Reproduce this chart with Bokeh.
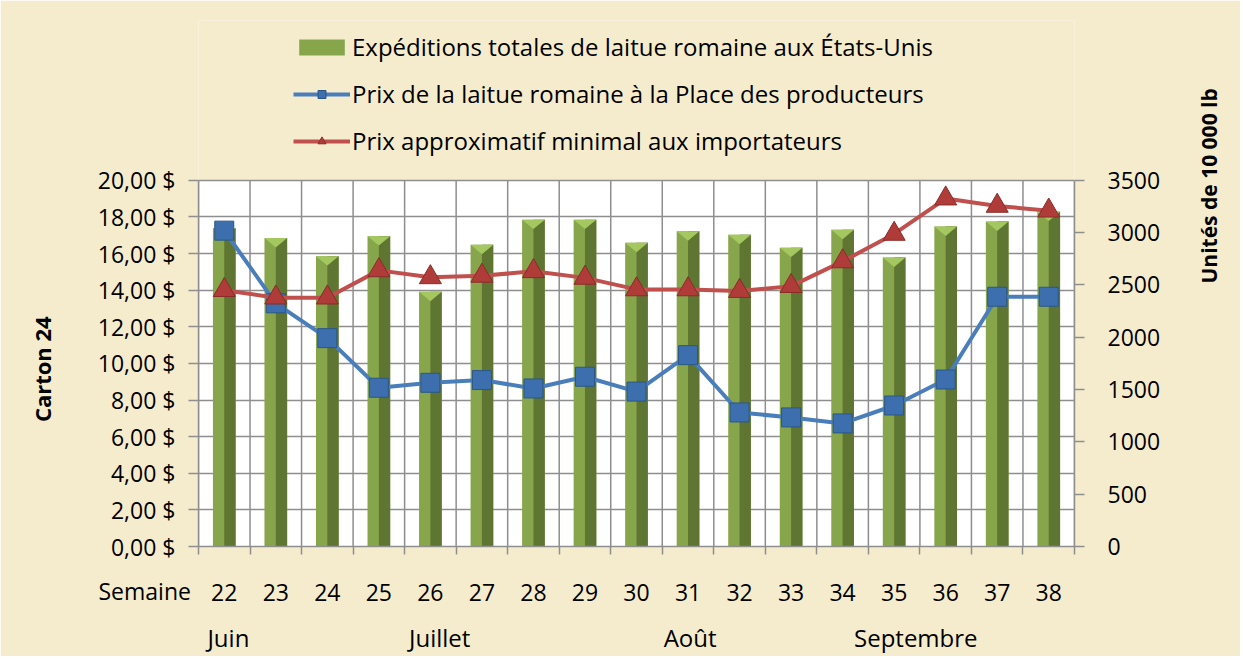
import math
from bokeh.plotting import figure
from bokeh.models import (Range1d, LinearAxis, FixedTicker, CustomJSTickFormatter,
                          Legend, LegendItem, ColumnDataSource)
from bokeh.embed import file_html
from bokeh.resources import INLINE

# ---------------- data ----------------
weeks = ["22", "23", "24", "25", "26", "27", "28", "29", "30",
         "31", "32", "33", "34", "35", "36", "37", "38"]
shipments = [3045, 2948, 2775, 2966, 2435, 2884, 3124, 3124, 2903,
             3012, 2979, 2856, 3027, 2761, 3058, 3106, 3200]
producer_price = [17.25, 13.28, 11.38, 8.67, 8.94, 9.09, 8.63, 9.27, 8.46,
                  10.45, 7.32, 7.05, 6.72, 7.70, 9.12, 13.64, 13.64]
importer_price = [14.00, 13.59, 13.59, 15.08, 14.70, 14.78, 15.03, 14.67, 14.04,
                  14.04, 13.95, 14.22, 15.57, 17.07, 19.00, 18.60, 18.34]
price_ticks = [0, 2, 4, 6, 8, 10, 12, 14, 16, 18, 20]
unit_ticks = [0, 500, 1000, 1500, 2000, 2500, 3000, 3500]
months = ["Juin", "Juillet", "Août", "Septembre"]
series_names = ["Expéditions totales de laitue romaine aux États-Unis",
                "Prix de la laitue romaine à la Place des producteurs",
                "Prix approximatif minimal aux importateurs"]
left_title = "Carton 24"
right_title = "Unités de 10 000 lb"
week_word = "Semaine"

# ---------------- style ----------------
FONT = "Open Sans"
GRID = "#8E8E8E"
BG = "#F5ECCE"
NB = "\u00a0"

W, H = 1240, 656
FL, FR, FT, FB = 198, 1080, 20, 550    # frame edges on canvas (frame also holds the legend)
PLOT_TOP = 181                          # canvas y of the top of the plotting area

n = len(weeks)
xc = [i + 0.5 for i in range(n)]          # slot centres on the week axis
bounds = list(range(n + 1))               # slot boundaries
month_pos = [0.58, 4.68, 9.54, 13.92]     # label anchors on the week axis

pmax, umax = price_ticks[-1], unit_ticks[-1]
stretch = (FB - FT) / (FB - PLOT_TOP)

p = figure(width=W, height=H, x_range=Range1d(0, n),
           y_range=Range1d(0, pmax * stretch), output_backend="svg", toolbar_location=None,
           min_border_left=FL, min_border_right=W - FR, min_border_top=FT,
           min_border_bottom=H - FB, border_fill_color=BG,
           background_fill_color=BG, outline_line_color=None)
p.extra_y_ranges = {"units": Range1d(0, umax * stretch)}

# white plotting area
p.quad(left=[0], right=[n], bottom=[0], top=[pmax], fill_color="white",
       line_color=None, level="image")

# left axis (title padded so that it sits centred on the plotting area)
ya = p.yaxis[0]
ya.bounds = (0, pmax)
ya.ticker = FixedTicker(ticks=price_ticks)
ya.formatter = CustomJSTickFormatter(code="return tick.toFixed(2).replace('.', ',') + '\u00a0$';")
ya.major_tick_out = 10
ya.major_tick_in = 0
ya.minor_tick_line_color = None
ya.axis_line_color = GRID
ya.axis_line_width = 1.5
ya.major_tick_line_color = GRID
ya.major_tick_line_width = 1.5
ya.major_label_standoff = 13
ya.major_label_text_font = FONT
ya.major_label_text_font_size = "23px"
ya.major_label_text_color = "black"
ya.axis_label = left_title + NB * 30
ya.axis_label_text_font = FONT
ya.axis_label_text_font_size = "22px"
ya.axis_label_text_font_style = "bold"
ya.axis_label_text_color = "black"
ya.axis_label_standoff = 38

p.ygrid.ticker = FixedTicker(ticks=price_ticks)
p.ygrid.grid_line_color = GRID
p.ygrid.grid_line_width = 1.5
p.xgrid.visible = False

# vertical grid at slot boundaries
p.segment(x0=bounds, x1=bounds, y0=[0] * len(bounds), y1=[pmax] * len(bounds),
          line_color=GRID, line_width=1.5)

# right axis
ra = LinearAxis(y_range_name="units", ticker=FixedTicker(ticks=unit_ticks), bounds=(0, umax))
ra.major_tick_out = 10
ra.major_tick_in = 0
ra.minor_tick_line_color = None
ra.axis_line_color = GRID
ra.axis_line_width = 1.5
ra.major_tick_line_color = GRID
ra.major_tick_line_width = 1.5
ra.major_label_standoff = 23
ra.major_label_text_font = FONT
ra.major_label_text_font_size = "23px"
ra.major_label_text_color = "black"
ra.axis_label = right_title + NB * 30
ra.axis_label_text_font = FONT
ra.axis_label_text_font_size = "21px"
ra.axis_label_text_font_style = "bold"
ra.axis_label_text_color = "black"
ra.axis_label_text_align = "center"
ra.axis_label_standoff = 46
ra.axis_label_orientation = math.pi / 2
p.add_layout(ra, "right")

# bottom axis: week labels at slot centres, tick marks at slot boundaries
xa = p.xaxis[0]
xa.ticker = FixedTicker(ticks=xc, minor_ticks=bounds)
xa.formatter = CustomJSTickFormatter(args=dict(labels=weeks),
                                     code="return labels[Math.floor(tick)];")
xa.axis_line_color = GRID
xa.axis_line_width = 1.5
xa.major_tick_line_color = None
xa.major_tick_out = 8
xa.major_tick_in = 0
xa.minor_tick_line_color = GRID
xa.minor_tick_line_width = 1.5
xa.minor_tick_out = 8
xa.minor_tick_in = 0
xa.major_label_standoff = 29
xa.major_label_text_font = FONT
xa.major_label_text_font_size = "23px"
xa.major_label_text_color = "black"
xa.axis_label = week_word + NB * 18
xa.axis_label_align = "start"
xa.axis_label_standoff = -29
xa.axis_label_text_font = FONT
xa.axis_label_text_font_size = "23px"
xa.axis_label_text_font_style = "normal"
xa.axis_label_text_color = "black"

# second bottom axis: month names
ma = LinearAxis(ticker=FixedTicker(ticks=month_pos),
                formatter=CustomJSTickFormatter(args=dict(labels=months, pos=month_pos),
                                                code="const i = pos.indexOf(tick); return i >= 0 ? labels[i] : '';"))
ma.axis_line_color = None
ma.major_tick_line_color = None
ma.minor_tick_line_color = None
ma.major_label_standoff = 5
ma.major_label_text_font = FONT
ma.major_label_text_font_size = "24px"
ma.major_label_text_color = "black"
p.add_layout(ma, "below")

# ---------------- glyphs ----------------
src = ColumnDataSource(dict(x=xc, xr=[v + 0.11 for v in xc], shipments=shipments,
                            producer=producer_price, importer=importer_price))

bar = p.vbar(x="x", top="shipments", width=0.44, y_range_name="units", source=src,
             fill_color="#87A64B", line_color=None)
p.vbar(x="xr", top="shipments", width=0.22,
       y_range_name="units", source=src, fill_color="#5E7632", line_color=None)
roof_xs = [[c - 0.22, c + 0.22, c] for c in xc]
roof_ys = [[v, v, v - 90] for v in shipments]
p.patches(roof_xs, roof_ys, y_range_name="units", fill_color="#A4C760", line_color=None)

bl = p.line(x="x", y="producer", source=src, line_color="#4A7EBB", line_width=4)
bm = p.scatter(x="x", y="producer", source=src, marker="square", size=19,
               fill_color="#3D6FAE", line_color="#2B5788", line_width=1)
rl = p.line(x="x", y="importer", source=src, line_color="#C0504D", line_width=4)
rm = p.scatter(x="x", y="importer", source=src, marker="triangle", size=22,
               fill_color="#B03C39", line_color="#8A2B28", line_width=1)

# ---------------- legend (inside the tall frame, above the plotting area) ----------------
legend = Legend(items=[LegendItem(label=series_names[0], renderers=[bar]),
                       LegendItem(label=series_names[1], renderers=[bl, bm]),
                       LegendItem(label=series_names[2], renderers=[rl, rm])],
                location=(95, 389), orientation="vertical",
                glyph_width=57, glyph_height=20, spacing=14, padding=0, margin=0,
                label_standoff=2, label_text_font=FONT, label_text_font_size="24px",
                label_text_color="black",
                background_fill_alpha=0, border_line_alpha=0)
p.add_layout(legend)

open("out.html", "w").write(file_html(p, INLINE))
